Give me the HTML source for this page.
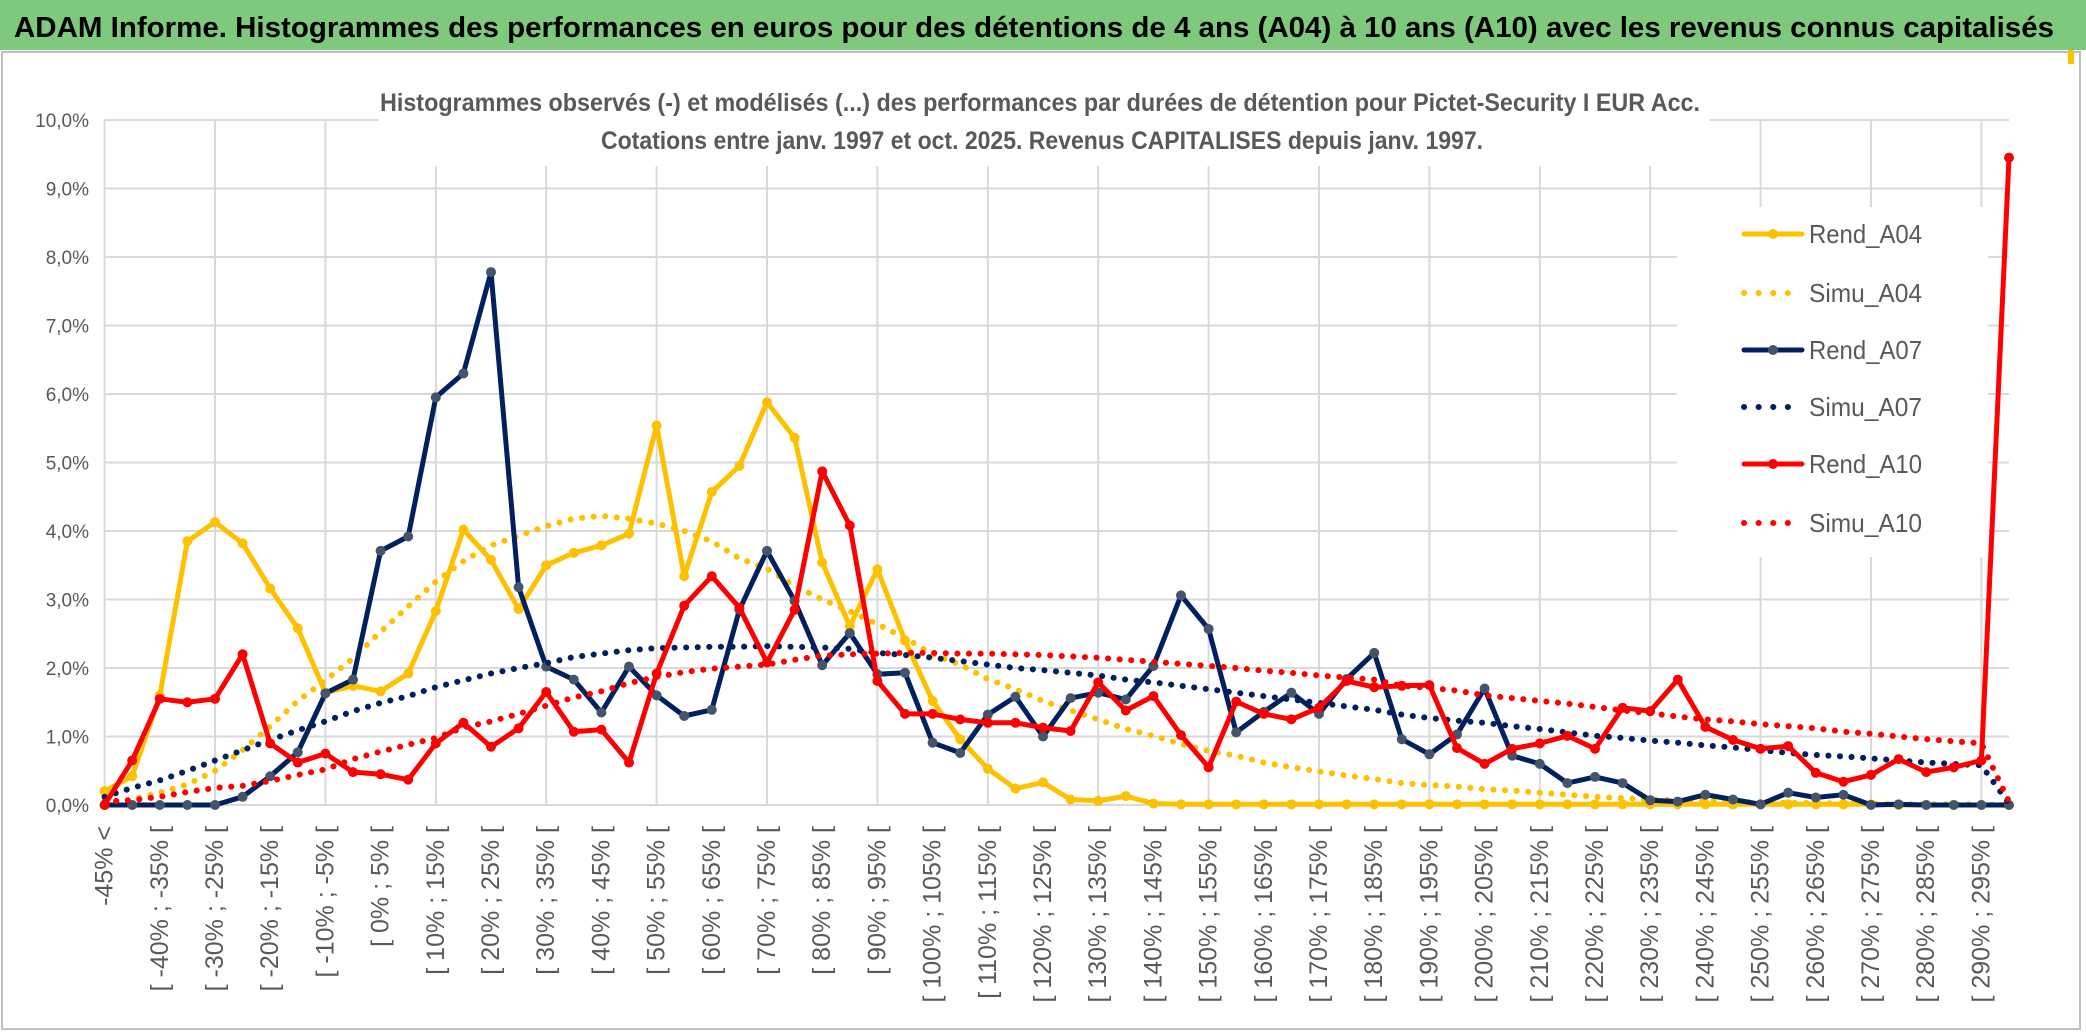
<!DOCTYPE html>
<html><head><meta charset="utf-8"><style>
html,body{margin:0;padding:0;background:#fff;}
svg{display:block;font-family:"Liberation Sans",sans-serif;}
</style></head><body>
<svg id="chart" width="2086" height="1033" viewBox="0 0 2086 1033" xmlns="http://www.w3.org/2000/svg">
<rect x="0" y="0" width="2086" height="1033" fill="#fff"/>
<rect x="0" y="0" width="2086" height="50" fill="#7fc97d"/>
<text x="14" y="37" font-size="29" font-weight="bold" fill="#000" textLength="2040" lengthAdjust="spacingAndGlyphs">ADAM Informe. Histogrammes des performances en euros pour des détentions de 4 ans (A04) à 10 ans (A10) avec les revenus connus capitalisés</text>
<rect x="2" y="52" width="2078" height="977" fill="none" stroke="#bfbfbf" stroke-width="2"/>
<rect x="2068" y="50" width="6" height="14" fill="#ffc000"/>
<g id="grid"></g>
<rect x="379" y="60" width="1331" height="106" fill="#fff"/>
<text x="1040" y="111" font-size="25" font-weight="bold" fill="#595959" text-anchor="middle" textLength="1320" lengthAdjust="spacingAndGlyphs">Histogrammes observés (-) et modélisés (...) des performances par durées de détention pour Pictet-Security I EUR Acc.</text>
<text x="1042" y="149" font-size="25" font-weight="bold" fill="#595959" text-anchor="middle" textLength="882" lengthAdjust="spacingAndGlyphs">Cotations entre janv. 1997 et oct. 2025. Revenus CAPITALISES depuis janv. 1997.</text>
<rect x="1677" y="207" width="311" height="350" fill="#fff"/>
<g id="yticks"></g>
<g id="xticks"></g>
<g id="series"></g>
<g id="legend"></g>
</svg>
<script>
const categories = [];
const catStarts = [-45,-45,-40,-35,-30,-25,-20,-15,-10,-5,0,5,10,15,20,25,30,35,40,45,50,55,60,65,70,75,80,85,90,95,100,105,110,115,120,125,130,135,140,145,150,155,160,165,170,175,180,185,190,195,200,205,210,215,220,225,230,235,240,245,250,255,260,265,270,275,280,285,290,295];
for (let i = 0; i < catStarts.length; i++) {
  categories.push(i === 0 ? "-45% <" : "[ " + catStarts[i] + "% ; " + (catStarts[i] + 5) + "% [");
}
const yTickValues = [0,1,2,3,4,5,6,7,8,9,10];
const yTickLabels = ["0,0%","1,0%","2,0%","3,0%","4,0%","5,0%","6,0%","7,0%","8,0%","9,0%","10,0%"];
const seriesNames = ["Rend_A04","Simu_A04","Rend_A07","Simu_A07","Rend_A10","Simu_A10"];
const rendA04 = [0.2,0.42,1.6,3.85,4.13,3.82,3.16,2.58,1.64,1.74,1.66,1.92,2.83,4.02,3.58,2.86,3.5,3.68,3.79,3.96,5.54,3.34,4.57,4.95,5.88,5.36,3.54,2.61,3.44,2.4,1.52,0.96,0.53,0.24,0.33,0.08,0.06,0.13,0.02,0.01,0.01,0.01,0.01,0.01,0.01,0.01,0.01,0.01,0.01,0.01,0.01,0.01,0.01,0.01,0.01,0.01,0.01,0.01,0.01,0.01,0.01,0.01,0.01,0.01,0.01,0,0,0,0,0];
const simuA04 = [0.03,0.08,0.18,0.3,0.5,0.8,1.15,1.52,1.82,2.14,2.53,2.9,3.26,3.56,3.79,3.93,4.07,4.18,4.22,4.18,4.11,4.0,3.85,3.6,3.45,3.2,3.0,2.83,2.64,2.44,2.2,2.05,1.84,1.69,1.52,1.38,1.25,1.11,1.01,0.89,0.79,0.72,0.62,0.55,0.49,0.43,0.38,0.32,0.29,0.27,0.23,0.21,0.18,0.15,0.12,0.1,0.08,0.07,0.06,0.05,0.04,0.03,0.03,0.02,0.02,0.01,0.01,0.01,0.01,0];
const rendA07 = [0,0,0,0,0,0.12,0.42,0.77,1.63,1.83,3.71,3.92,5.95,6.3,7.78,3.18,2.02,1.83,1.35,2.02,1.6,1.3,1.39,2.85,3.71,2.98,2.04,2.51,1.91,1.93,0.91,0.76,1.32,1.58,1.0,1.56,1.64,1.54,2.03,3.06,2.57,1.06,1.36,1.64,1.33,1.84,2.22,0.96,0.74,1.03,1.7,0.72,0.6,0.32,0.41,0.32,0.07,0.05,0.15,0.08,0.01,0.18,0.11,0.15,0,0.01,0,0,0,0];
const simuA07 = [0.12,0.25,0.36,0.5,0.65,0.8,0.95,1.09,1.22,1.37,1.49,1.59,1.72,1.82,1.92,2.0,2.07,2.16,2.21,2.26,2.29,2.3,2.31,2.31,2.32,2.31,2.3,2.28,2.22,2.19,2.15,2.1,2.05,2.0,1.97,1.93,1.89,1.83,1.79,1.74,1.69,1.64,1.59,1.54,1.49,1.44,1.39,1.32,1.27,1.23,1.2,1.15,1.11,1.06,1.01,0.98,0.94,0.91,0.87,0.84,0.8,0.76,0.73,0.71,0.68,0.65,0.62,0.6,0.58,0.02];
const rendA10 = [0,0.65,1.55,1.5,1.55,2.2,0.9,0.62,0.75,0.48,0.45,0.37,0.9,1.2,0.85,1.12,1.65,1.07,1.1,0.62,1.92,2.91,3.34,2.88,2.08,2.85,4.87,4.08,1.81,1.33,1.33,1.25,1.2,1.2,1.13,1.08,1.79,1.38,1.59,1.02,0.55,1.51,1.33,1.25,1.42,1.81,1.72,1.74,1.75,0.83,0.6,0.82,0.9,1.01,0.82,1.42,1.37,1.83,1.14,0.95,0.82,0.86,0.47,0.34,0.44,0.67,0.48,0.55,0.65,9.45];
const simuA10 = [0.05,0.07,0.12,0.19,0.25,0.28,0.35,0.44,0.52,0.67,0.78,0.88,0.98,1.13,1.22,1.33,1.45,1.57,1.66,1.78,1.87,1.94,1.99,2.02,2.05,2.12,2.18,2.2,2.21,2.22,2.22,2.21,2.21,2.2,2.19,2.17,2.15,2.12,2.09,2.06,2.03,2.0,1.96,1.93,1.89,1.86,1.83,1.74,1.71,1.67,1.6,1.56,1.52,1.48,1.43,1.38,1.34,1.29,1.25,1.22,1.18,1.15,1.12,1.07,1.04,1.0,0.96,0.93,0.9,0.05];

const NS = "http://www.w3.org/2000/svg";
const X0 = 104.6, DX = 27.6, Y0 = 805, DY = 68.5;
function xScale(i){ return X0 + i * DX; }
function yScale(v){ return Y0 - v * DY; }
function mk(tag, attrs, parent){
  const el = document.createElementNS(NS, tag);
  for (const k in attrs) el.setAttribute(k, attrs[k]);
  parent.appendChild(el);
  return el;
}
const grid = document.getElementById("grid");
const N = categories.length;
for (let t = 0; t < yTickValues.length; t++) {
  const l = mk("line", {x1: X0, x2: xScale(N - 1), y1: yScale(yTickValues[t]), y2: yScale(yTickValues[t]), stroke: "#d9d9d9", "stroke-width": 2}, grid);
  
  
}
for (let i = 0; i < N; i += 4) {
  const l = mk("line", {x1: xScale(i), x2: xScale(i), y1: yScale(10), y2: yScale(0), stroke: "#d9d9d9", "stroke-width": 2}, grid);
  
  
}
const yt = document.getElementById("yticks");
for (let t = 0; t < yTickValues.length; t++) {
  const tx = mk("text", {x: 89, y: yScale(yTickValues[t]) + 7, "font-size": 19, fill: "#595959", "text-anchor": "end"}, yt);
  tx.textContent = yTickLabels[t];
  
  
}
const xt = document.getElementById("xticks");
for (let i = 0; i < N; i += 2) {
  const x = xScale(i) + 8, y = 826;
  const tx = mk("text", {x: x, y: y, "font-size": 25, fill: "#595959", "text-anchor": "end", transform: "rotate(-90 " + x + " " + y + ")"}, xt);
  tx.textContent = categories[i];
  
  
}
const sg = document.getElementById("series");
function pts(arr){ return arr.map((v, i) => xScale(i).toFixed(1) + "," + yScale(v).toFixed(1)).join(" "); }
function dotted(arr, color, name){
  const p = mk("polyline", {points: pts(arr), fill: "none", stroke: color, "stroke-width": 6, "stroke-linecap": "round", "stroke-dasharray": "0.1 11.5"}, sg);
  
  
}
function solid(arr, color, mcolor, name){
  const g = mk("g", {}, sg);
  
  
  const p = mk("polyline", {points: pts(arr), fill: "none", stroke: color, "stroke-width": 5, "stroke-linejoin": "round"}, g);
  
  
  arr.forEach((v, i) => {
    const c = mk("circle", {cx: xScale(i), cy: yScale(v), r: 5, fill: mcolor}, g);
    
    
  });
}
solid(rendA04, "#ffc000", "#ffc000", "rend-a04");
dotted(simuA04, "#ffc000", "simu-a04");
solid(rendA07, "#002060", "#44546a", "rend-a07");
dotted(simuA07, "#002060", "simu-a07");
solid(rendA10, "#ff0000", "#ff0000", "rend-a10");
dotted(simuA10, "#ff0000", "simu-a10");

const lg = document.getElementById("legend");
const legendColors = ["#ffc000","#ffc000","#002060","#002060","#ff0000","#ff0000"];
const legendMarkers = ["#ffc000",null,"#44546a",null,"#ff0000",null];
const legendY = [234, 293, 350, 407, 464, 523];
for (let k = 0; k < seriesNames.length; k++) {
  const y = legendY[k];
  if (legendMarkers[k]) {
    const l = mk("line", {x1: 1744, x2: 1802, y1: y, y2: y, stroke: legendColors[k], "stroke-width": 5, "stroke-linecap": "round"}, lg);
    
    
    const c = mk("circle", {cx: 1773, cy: y, r: 5, fill: legendMarkers[k]}, lg);
    
    
  } else {
    const l = mk("line", {x1: 1744, x2: 1800, y1: y, y2: y, stroke: legendColors[k], "stroke-width": 6, "stroke-linecap": "round", "stroke-dasharray": "0.1 14.5"}, lg);
    
    
  }
  const t = mk("text", {x: 1809, y: y + 9, "font-size": 26, fill: "#595959", textLength: 113, lengthAdjust: "spacingAndGlyphs"}, lg);
  t.textContent = seriesNames[k];
  
  
}
</script>
</body></html>
